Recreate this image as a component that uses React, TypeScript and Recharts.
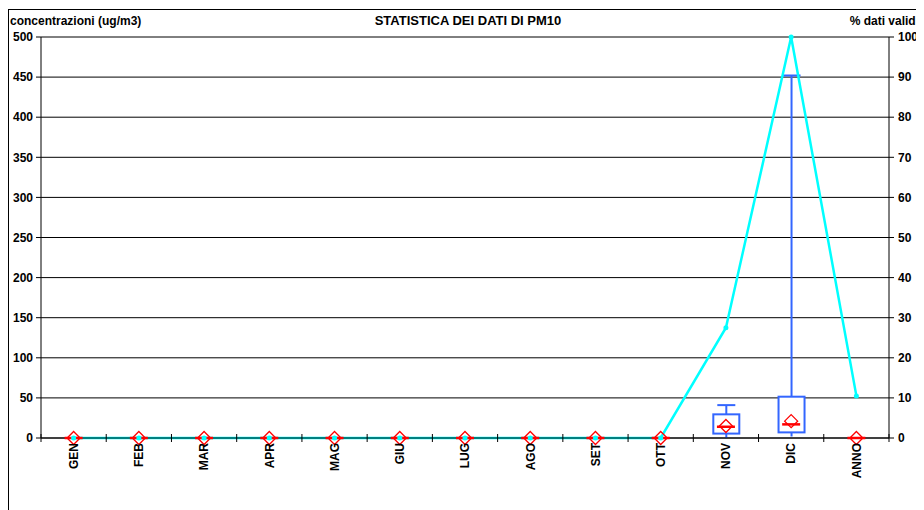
import React from 'react';
import { ComposedChart, Bar, Line, XAxis, YAxis, CartesianGrid } from 'recharts';

const categories = ['GEN', 'FEB', 'MAR', 'APR', 'MAG', 'GIU', 'LUG', 'AGO', 'SET', 'OTT', 'NOV', 'DIC', 'ANNO'];
const minVals = [0, 0, 0, 0, 0, 0, 0, 0, 0, 0, 0, 2, 0];
const q1Vals = [0, 0, 0, 0, 0, 0, 0, 0, 0, 0, 5.5, 7, 0];
const medianVals = [0, 0, 0, 0, 0, 0, 0, 0, 0, 0, 14, 17, 0];
const q3Vals = [0, 0, 0, 0, 0, 0, 0, 0, 0, 0, 29.5, 51.5, 0];
const maxVals = [0, 0, 0, 0, 0, 0, 0, 0, 0, 0, 41, 452, 0];
const meanVals = [0, 0, 0, 0, 0, 0, 0, 0, 0, 0, 15, 21, 0];
const validPct = [0, 0, 0, 0, 0, 0, 0, 0, 0, 0, 27.5, 100, 10.5];
const leftTicks = [0, 50, 100, 150, 200, 250, 300, 350, 400, 450, 500];
const rightTicks = [0, 10, 20, 30, 40, 50, 60, 70, 80, 90, 100];

const data = categories.map((c, i) => ({
  cat: c,
  whisker: [minVals[i], maxVals[i]],
  box: [q1Vals[i], q3Vals[i]],
  median: medianVals[i],
  mean: meanVals[i],
  pct: validPct[i],
}));

const CHART_W = 912;
const CHART_H = 500;
const Y_W = 32;
const PLOT_W = CHART_W - 2 * Y_W;
const HALF_BAND = PLOT_W / categories.length / 2;
const FONT = '"Liberation Sans", Arial, sans-serif';
const BLUE = '#3366FF';

const WhiskerShape = (props: any) => {
  const { x, y, width, height } = props;
  const cx = x + width / 2;
  if (!height || height <= 0) return null;
  return (
    <g>
      <line x1={cx} x2={cx} y1={y} y2={y + height} stroke={BLUE} strokeWidth={2} />
      <line x1={cx - 9} x2={cx + 9} y1={y} y2={y} stroke={BLUE} strokeWidth={2} />
    </g>
  );
};

const BoxShape = (props: any) => {
  const { x, y, width, height } = props;
  const h = Math.max(0, height || 0);
  return (
    <rect x={x} y={y} width={width} height={h} fill={h > 0 ? '#ffffff' : 'none'} stroke={h > 0 ? BLUE : '#333333'} strokeWidth={2} />
  );
};

const MedianDot = (props: any) => {
  const { cx, cy, index } = props;
  if (cx == null || cy == null) return null;
  return <line key={'m' + index} x1={cx - 9} x2={cx + 9} y1={cy} y2={cy} stroke="#FF0000" strokeWidth={2.5} />;
};

const MeanDot = (props: any) => {
  const { cx, cy, index } = props;
  if (cx == null || cy == null) return null;
  const r = 6.5;
  return (
    <polygon
      key={'d' + index}
      points={`${cx},${cy - r} ${cx + r},${cy} ${cx},${cy + r} ${cx - r},${cy}`}
      fill="none"
      stroke="#FF0000"
      strokeWidth={1.3}
    />
  );
};

const XTick = (props: any) => {
  const { x, y, payload, index } = props;
  const last = index === categories.length - 1;
  return (
    <g>
      <line x1={x - HALF_BAND} x2={x - HALF_BAND} y1={y - 4} y2={y + 4} stroke="#000" />
      {last && <line x1={x + HALF_BAND} x2={x + HALF_BAND} y1={y - 4} y2={y + 4} stroke="#000" />}
      <text
        x={0}
        y={0}
        transform={`translate(${x},${y + 5}) rotate(-90)`}
        textAnchor="end"
        dy="0.36em"
        fontFamily={FONT}
        fontWeight="bold"
        fontSize={12}
        fill="#000"
      >
        {payload.value}
      </text>
    </g>
  );
};

const tickStyle = { fontFamily: FONT, fontWeight: 'bold', fontSize: 12, fill: '#000' };

export default function App() {
  return (
    <div style={{ width: CHART_W + 2, height: 502, overflow: 'hidden' }}>
      <style>{'html,body{overflow:hidden;}'}</style>
      <div
        style={{
          position: 'relative',
          width: CHART_W,
          height: CHART_H + 2,
          marginTop: 1,
          borderTop: '1px solid #000',
          borderLeft: '1px solid #000',
          borderRight: '1px solid #000',
          background: '#fff',
        }}
      >
        <div style={{ position: 'absolute', left: 1, top: 4, fontFamily: FONT, fontWeight: 'bold', fontSize: 12, color: '#000' }}>
          concentrazioni (ug/m3)
        </div>
        <div style={{ position: 'absolute', left: 0, width: 918, top: 3, textAlign: 'center', fontFamily: FONT, fontWeight: 'bold', fontSize: 13, color: '#000' }}>
          STATISTICA DEI DATI DI PM10
        </div>
        <div style={{ position: 'absolute', right: 2, top: 4, fontFamily: FONT, fontWeight: 'bold', fontSize: 12, color: '#000' }}>
          % dati validi
        </div>
        <ComposedChart
          width={CHART_W}
          height={CHART_H}
          data={data}
          margin={{ top: 27, right: 0, bottom: 12, left: 0 }}
          barSize={26}
        >
          <CartesianGrid horizontal vertical={false} stroke="#000" strokeWidth={1} yAxisId="left" />
          <XAxis
            dataKey="cat"
            height={60}
            interval={0}
            tickLine={false}
            tickSize={0}
            tickMargin={0}
            tick={<XTick />}
            axisLine={{ stroke: '#000' }}
          />
          <XAxis xAxisId="box" dataKey="cat" hide height={0} />
          <YAxis
            yAxisId="left"
            width={Y_W}
            domain={[0, 500]}
            ticks={leftTicks}
            interval={0}
            tickSize={5}
            tickMargin={3}
            tick={tickStyle}
            axisLine={{ stroke: '#000' }}
            tickLine={{ stroke: '#000' }}
          />
          <YAxis
            yAxisId="right"
            orientation="right"
            width={Y_W}
            domain={[0, 100]}
            ticks={rightTicks}
            interval={0}
            tickSize={5}
            tickMargin={4}
            tick={{ ...tickStyle, textAnchor: 'start' }}
            axisLine={{ stroke: '#000' }}
            tickLine={{ stroke: '#000' }}
          />
          <Bar yAxisId="left" dataKey="whisker" shape={<WhiskerShape />} isAnimationActive={false} />
          <Bar yAxisId="left" xAxisId="box" dataKey="box" shape={<BoxShape />} isAnimationActive={false} />
          <Line yAxisId="left" dataKey="mean" stroke="none" dot={<MeanDot />} activeDot={false} isAnimationActive={false} />
          <Line yAxisId="left" dataKey="median" stroke="none" dot={<MedianDot />} activeDot={false} isAnimationActive={false} />
          <Line
            yAxisId="right"
            dataKey="pct"
            stroke="#00FFFF"
            strokeWidth={2.5}
            dot={{ r: 2.5, fill: '#00FFFF', stroke: '#00FFFF', strokeWidth: 0 }}
            activeDot={false}
            isAnimationActive={false}
          />
        </ComposedChart>
      </div>
    </div>
  );
}
